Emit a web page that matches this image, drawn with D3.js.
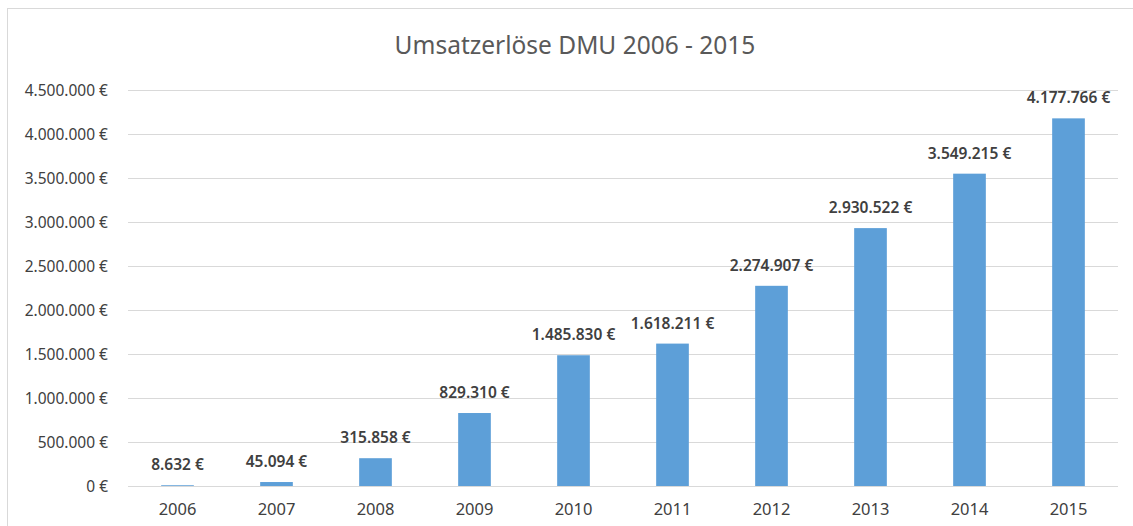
<!DOCTYPE html>
<html>
<head>
<meta charset="utf-8">
<script src="https://cdn.jsdelivr.net/npm/d3@7"></script>
<style>
  body { margin: 0; background: #fff; }
  svg { display: block; font-family: "Noto Sans", sans-serif; }
</style>
</head>
<body>
<svg id="chart" width="1133" height="526"></svg>
<script>
// Data
const years = ["2006", "2007", "2008", "2009", "2010", "2011", "2012", "2013", "2014", "2015"];
const revenue = [8632, 45094, 315858, 829310, 1485830, 1618211, 2274907, 2930522, 3549215, 4177766];
const yTicks = [0, 500000, 1000000, 1500000, 2000000, 2500000, 3000000, 3500000, 4000000, 4500000];
const title = "Umsatzerlöse DMU 2006 - 2015";

const svg = d3.select("#chart"),
  width = +svg.attr("width"),
  height = +svg.attr("height");

const margin = { top: 90, right: 15, bottom: 40, left: 128 };

// german number format: 1.234.567 €
const de = d3.formatLocale({ decimal: ",", thousands: ".", grouping: [3], currency: ["", " €"] });
const fmt = v => de.format(",")(v) + " €";

// chart frame
svg.append("rect")
  .attr("x", 7.5).attr("y", 8.5)
  .attr("width", width + 10).attr("height", height + 10)
  .attr("fill", "#fff")
  .attr("stroke", "#d9d9d9")
  .attr("stroke-width", 1);

const x = d3.scaleBand()
  .domain(years)
  .range([margin.left, width - margin.right])
  .paddingInner(0.67)
  .paddingOuter(0.335);

const y = d3.scaleLinear()
  .domain([0, 4500000])
  .range([height - margin.bottom, margin.top]);

// title
svg.append("text")
  .attr("x", 575)
  .attr("y", 54)
  .attr("text-anchor", "middle")
  .attr("fill", "#595959")
  .style("font-size", "24.5px")
  .text(title);

// gridlines
svg.append("g")
  .selectAll("line")
  .data(yTicks)
  .enter()
  .append("line")
  .attr("x1", margin.left)
  .attr("x2", width - margin.right)
  .attr("y1", d => Math.round(y(d)) + 0.5)
  .attr("y2", d => Math.round(y(d)) + 0.5)
  .attr("stroke", "#d9d9d9")
  .attr("stroke-width", 1);

// y axis labels
const yAxis = d3.axisLeft(y)
  .tickValues(yTicks)
  .tickSize(0)
  .tickPadding(20)
  .tickFormat(fmt);

svg.append("g")
  .attr("transform", `translate(${margin.left},0)`)
  .call(yAxis)
  .call(g => g.select(".domain").remove())
  .call(g => g.selectAll("text")
    .attr("fill", "#404040")
    .style("font-size", "15.5px")
    .style("font-family", "'Noto Sans', sans-serif")
    .attr("dy", "0.35em"));

// x axis labels
const xAxis = d3.axisBottom(x).tickSize(0).tickPadding(17);
svg.append("g")
  .attr("transform", `translate(0,${height - margin.bottom})`)
  .call(xAxis)
  .call(g => g.select(".domain").remove())
  .call(g => g.selectAll("text")
    .attr("fill", "#404040")
    .style("font-size", "16.5px")
    .style("font-family", "'Noto Sans', sans-serif"));

// bars
svg.append("g")
  .selectAll("rect")
  .data(revenue)
  .enter()
  .append("rect")
  .attr("x", (d, i) => x(years[i]))
  .attr("y", d => y(d))
  .attr("width", x.bandwidth())
  .attr("height", d => y(0) - y(d))
  .attr("fill", "#5d9fd8");

// value labels
svg.append("g")
  .selectAll("text")
  .data(revenue)
  .enter()
  .append("text")
  .attr("x", (d, i) => x(years[i]) + x.bandwidth() / 2)
  .attr("y", d => y(d) - 15)
  .attr("text-anchor", "middle")
  .attr("fill", "#404040")
  .style("font-size", "15.5px")
  .style("font-weight", "600")
  .text(fmt);
</script>
</body>
</html>
